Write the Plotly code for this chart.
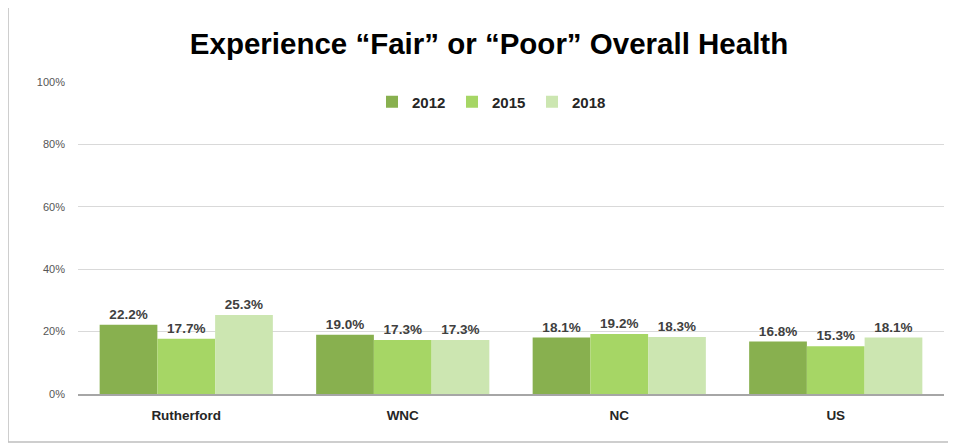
import plotly.graph_objects as go

categories = ["Rutherford", "WNC", "NC", "US"]
years = ["2012", "2015", "2018"]
values_2012 = [22.2, 19.0, 18.1, 16.8]
values_2015 = [17.7, 17.3, 19.2, 15.3]
values_2018 = [25.3, 17.3, 18.3, 18.1]
series = [values_2012, values_2015, values_2018]
colors = ["#88b04f", "#a6d665", "#cce6b1"]
y_ticks = [0, 20, 40, 60, 80, 100]
y_tick_text = ["0%", "20%", "40%", "60%", "80%", "100%"]

OFF = 8  # browser body margin
W, H = 956 - OFF, 443 - OFF
L, R, T, B = 78 - OFF, 12, 82 - OFF, 49
pw, ph = W - L - R, H - T - B

def px_x(x):
    return (x - OFF - L) / pw

def px_y(y):
    return (H - B - (y - OFF)) / ph

fig = go.Figure()
for yr, vals, col in zip(years, series, colors):
    fig.add_trace(go.Bar(
        name=yr, x=categories, y=vals, marker=dict(color=col, line=dict(width=0)),
        text=[f"{v:.1f}%" for v in vals], textposition="outside",
        textfont=dict(family="Liberation Sans", size=13.5, color="#404040", weight="bold"),
        cliponaxis=False,
    ))

fig.update_layout(
    width=W, height=H,
    margin=dict(l=L, r=R, t=T, b=B),
    paper_bgcolor="white", plot_bgcolor="white",
    barmode="group", bargap=0.2, bargroupgap=0,
    font=dict(family="Liberation Sans", color="#404040"),
    title=dict(text="<b>Experience “Fair” or “Poor” Overall Health</b>",
               x=px_x(489), xref="paper", xanchor="center",
               y=1 - (44 - OFF) / H, yref="container", yanchor="middle",
               font=dict(family="Liberation Sans", size=29.5, color="#000000")),
    legend=dict(orientation="h", x=px_x(492), xanchor="center", y=px_y(102), yanchor="middle",
                font=dict(family="Liberation Sans", size=15, color="#262626", weight="bold"),
                itemwidth=30, entrywidth=35, traceorder="normal", bgcolor="rgba(0,0,0,0)"),
    showlegend=True,
)
fig.update_yaxes(range=[0, 100], tickvals=y_ticks, ticktext=y_tick_text,
                 showgrid=True, gridcolor="#d9d9d9", gridwidth=1, zeroline=False,
                 tickfont=dict(family="Liberation Sans", size=11, color="#555555"),
                 ticks="", ticklabelstandoff=12, showline=False, fixedrange=True)
fig.update_xaxes(showline=True, linecolor="#a6a6a6", linewidth=1.5,
                 tickfont=dict(family="Liberation Sans", size=13.5, color="#262626", weight="bold"),
                 ticks="", ticklabelstandoff=8, fixedrange=True)

fig.add_shape(type="rect", xref="paper", yref="paper",
              x0=px_x(8), x1=px_x(962), y0=px_y(442), y1=px_y(7),
              line=dict(color="#bfbfbf", width=1.5), fillcolor="rgba(0,0,0,0)", layer="below")

fig.write_html("out.html")
